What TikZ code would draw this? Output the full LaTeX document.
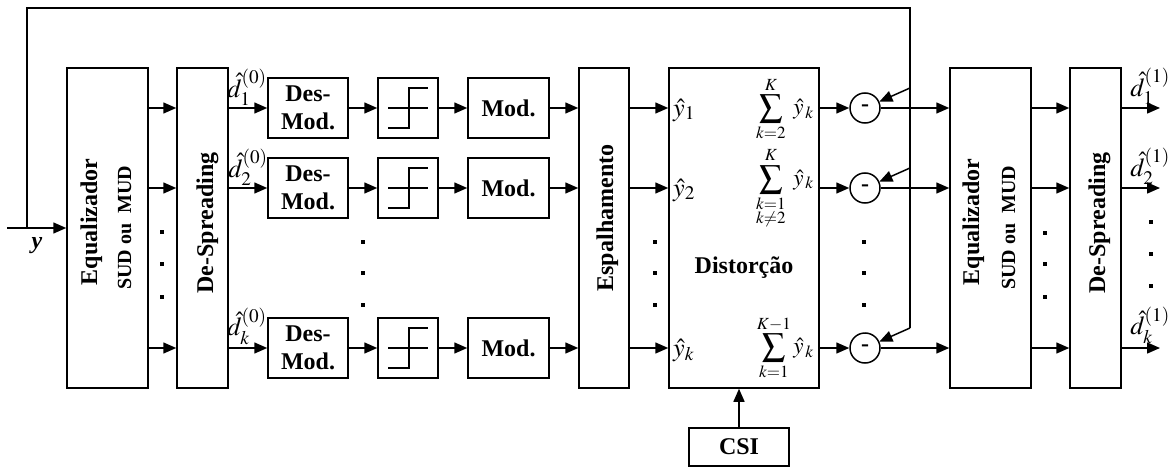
\documentclass[tikz,border=0pt]{standalone}
\usepackage{amsmath}
\usepackage{mathptmx}
\usepackage[no-math]{fontspec}
\setmainfont{Liberation Serif}
\usetikzlibrary{arrows.meta,calc}
\begin{document}
\begin{tikzpicture}[x=1pt,y=1pt,
  lw/.style={line width=1.5pt},
  box/.style={draw, lw, rectangle, inner sep=0pt},
  arr/.style={lw, -{Triangle[length=13pt,width=11pt]}},
  big/.style={font=\bfseries\fontsize{24}{28}\selectfont, inner sep=0pt},
  sm/.style={font=\bfseries\fontsize{20}{24}\selectfont, inner sep=0pt},
  mth/.style={font=\fontsize{26}{30}\selectfont, inner sep=0pt},
  smth/.style={font=\fontsize{23}{27}\selectfont, inner sep=0pt},
  sub/.style={draw, lw, circle, minimum size=30pt, inner sep=0pt, font=\bfseries\fontsize{24}{28}\selectfont},
  tall/.style={minimum height=320pt},
  row/.style={minimum height=60pt}
]
\useasboundingbox (0,0) rectangle (1172,-468);

% --- main blocks
\node[box, tall, minimum width=81pt] (eq1) at (107.5,-228) {};
\node[box, tall, minimum width=51pt] (ds1) at (202.5,-228) {};
\node[box, tall, minimum width=50pt] (esp) at (604,-228) {};
\node[box, tall, minimum width=150pt] (dis) at (744,-228) {};
\node[box, tall, minimum width=81pt] (eq2) at (990.5,-228) {};
\node[box, tall, minimum width=51pt] (ds2) at (1095.5,-228) {};
\node[box, minimum width=100pt, minimum height=38pt, big] (csi) at (739,-447) {CSI};

% --- rotated labels
\node[big, rotate=90, anchor=base] (eq1a) at (97,-222) {Equalizador};
\node[sm, rotate=90, anchor=base] (eq1b) at (131,-228) {SUD ou~ MUD};
\node[big, rotate=90, anchor=base] (ds1a) at (213,-223) {De-Spreading};
\node[big, rotate=90, anchor=base] (espa) at (613,-218) {Espalhamento};
\node[big, anchor=base] (disa) at (744,-273) {Distorção};
\node[big, rotate=90, anchor=base] (eq2a) at (979,-222) {Equalizador};
\node[sm, rotate=90, anchor=base] (eq2b) at (1015,-228) {SUD ou~ MUD};
\node[big, rotate=90, anchor=base] (ds2a) at (1105,-223) {De-Spreading};

% --- rows
\foreach \i/\y in {1/108, 2/188, 3/348} {
  \node[box, row, minimum width=80pt, big, align=center] (dm\i) at (308,-\y) {Des-\\Mod.};
  \node[box, row, minimum width=60pt] (th\i) at (408,-\y) {};
  \node[box, row, minimum width=81pt, big] (md\i) at (508.5,-\y) {Mod.};
  \node[sub] (c\i) at (865,-\y) {-};
  \draw[lw] ($(th\i.center)+(-20,0)$) -- ($(th\i.center)+(20,0)$);
  \draw[lw] ($(th\i.center)+(-20,-20)$) -- ++(21,0) -- ++(0,40) -- ++(19,0);
  \draw[arr] (eq1.east |- dm\i) -- (ds1.west |- dm\i);
  \draw[arr] (ds1.east |- dm\i) -- (dm\i.west);
  \draw[arr] (dm\i.east) -- (th\i.west);
  \draw[arr] (th\i.east) -- (md\i.west);
  \draw[arr] (md\i.east) -- (esp.west |- md\i);
  \draw[arr] (esp.east |- md\i) -- (dis.west |- md\i);
  \draw[arr] (dis.east |- c\i) -- (c\i);
  \draw[arr] (c\i) -- (eq2.west |- c\i);
  \draw[arr] (eq2.east |- c\i) -- (ds2.west |- c\i);
  \coordinate (o\i) at (1160,-\y);
  \draw[arr] (ds2.east |- c\i) -- (o\i);
}

% --- labels on rows
\node[mth] (l1) at (247,-87) {$\hat{d}_{1}^{(0)}$};
\node[mth] (l2) at (248,-167) {$\hat{d}_{2}^{(0)}$};
\node[mth] (l3) at (247,-326) {$\hat{d}_{k}^{(0)}$};
\node[mth] (r1) at (1150,-86) {$\hat{d}_{1}^{(1)}$};
\node[mth] (r2) at (1150,-166) {$\hat{d}_{2}^{(1)}$};
\node[mth] (r3) at (1150,-325) {$\hat{d}_{k}^{(1)}$};

\node[mth, anchor=west] (y1) at (673,-110) {$\hat{y}_1$};
\node[mth, anchor=west] (y2) at (673,-190) {$\hat{y}_2$};
\node[mth, anchor=west] (y3) at (673,-350) {$\hat{y}_k$};

\node[smth, anchor=east] (s1) at (814,-109) {$\displaystyle\sum_{k=2}^{K}\;\hat{y}_{\,k}$};
\node[smth, anchor=east] (s2) at (814,-188) {$\displaystyle\sum_{\substack{k=1\\ k\neq 2}}^{K}\;\hat{y}_{\,k}$};
\node[smth, anchor=east] (s3) at (814,-348) {$\displaystyle\sum_{k=1}^{K-1}\hat{y}_{\,k}$};

% --- input and feedback
\coordinate (in) at (7,-228);
\draw[arr] (in) -- (eq1.west |- in);
\node[font=\bfseries\itshape\fontsize{24}{28}\selectfont, inner sep=0pt] (ylab) at (37,-246) {y};
\coordinate (fa) at (27,-228);
\coordinate (fb) at (27,-8);
\coordinate (fc) at (910,-8);
\coordinate (fd) at (910,-328);
\coordinate (f1) at (910,-88);
\coordinate (f2) at (910,-168);
\draw[lw] (fa) -- (fb) -- (fc) -- (fd);
\draw[arr] (fd) -- (c3);
\draw[arr] (f1) -- (c1);
\draw[arr] (f2) -- (c2);
\draw[arr] (csi.north) -- (dis.south -| csi.north);

% --- ellipsis dots
\foreach \x/\a/\b/\c in {162/232/264/297, 363/242/273/305, 655/242/273/305, 864/242/273/305, 1045/233/264/297, 1151/222/254/286} {
  \foreach \yy in {\a,\b,\c} {
    \fill (\x-2.2,-\yy-2.2) rectangle ++(4.4,4.4);
  }
}
\end{tikzpicture}
\end{document}
